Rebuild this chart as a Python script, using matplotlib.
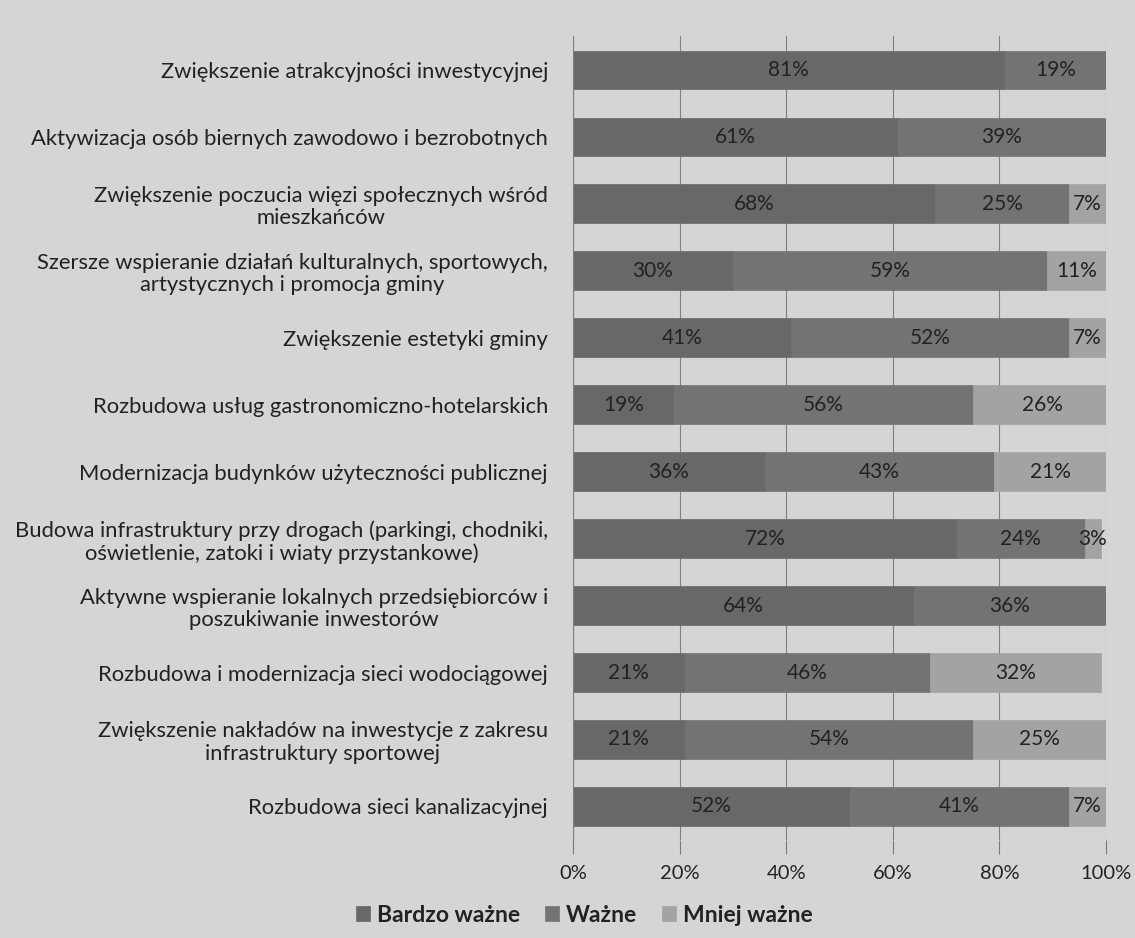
import matplotlib
matplotlib.use("Agg")
import matplotlib.pyplot as plt
import numpy as np

categories = [
    "Zwiększenie atrakcyjności inwestycyjnej",
    "Aktywizacja osób biernych zawodowo i bezrobotnych",
    "Zwiększenie poczucia więzi społecznych wśród\nmieszkańców",
    "Szersze wspieranie działań kulturalnych, sportowych,\nartystycznych i promocja gminy",
    "Zwiększenie estetyki gminy",
    "Rozbudowa usług gastronomiczno-hotelarskich",
    "Modernizacja budynków użyteczności publicznej",
    "Budowa infrastruktury przy drogach (parkingi, chodniki,\noświetlenie, zatoki i wiaty przystankowe)",
    "Aktywne wspieranie lokalnych przedsiębiorców i\nposzukiwanie inwestorów",
    "Rozbudowa i modernizacja sieci wodociągowej",
    "Zwiększenie nakładów na inwestycje z zakresu\ninfrastruktury sportowej",
    "Rozbudowa sieci kanalizacyjnej",
]
bardzo_wazne = [81, 61, 68, 30, 41, 19, 36, 72, 64, 21, 21, 52]
wazne =        [19, 39, 25, 59, 52, 56, 43, 24, 36, 46, 54, 41]
mniej_wazne =  [0, 0, 7, 11, 7, 26, 21, 3, 0, 32, 25, 7]
series_names = ["Bardzo ważne", "Ważne", "Mniej ważne"]
x_ticks = [0, 20, 40, 60, 80, 100]
x_tick_labels = ["0%", "20%", "40%", "60%", "80%", "100%"]

colors = ["#686868", "#737373", "#a3a3a3"]
bg = "#d3d5d7"
txt = "#222222"
font = "Lato"

fig = plt.figure(figsize=(11.35, 9.38), dpi=100, facecolor=bg)
ax = fig.add_axes([0.5048, 0.1045, 0.4696, 0.857])
ax.set_facecolor(bg)

y = np.arange(len(categories))
left = np.zeros(len(categories))
for name, vals, c in zip(series_names, [bardzo_wazne, wazne, mniej_wazne], colors):
    vals = np.array(vals, dtype=float)
    ax.barh(y, vals, left=left, height=0.57, color=c, label=name, zorder=2,
            edgecolor=c, linewidth=0.5)
    for yi, l, v in zip(y, left, vals):
        if v > 0:
            ax.text(l + v / 2, yi, f"{int(v)}%", ha="center", va="center",
                    fontsize=15, color=txt, family=font, zorder=3)
    left += vals

ax.set_xlim(0, 100)
ax.set_ylim(len(categories) - 0.5, -0.5)
ax.set_xticks(x_ticks)
ax.set_xticklabels(x_tick_labels, fontsize=14.5, color=txt, family=font)
ax.set_yticks(y)
ax.set_yticklabels(categories, fontsize=15.8, color=txt, family=font,
                   multialignment="center", linespacing=1.15)
ax.tick_params(axis="y", length=0, pad=18)
ax.tick_params(axis="x", length=10, width=0.8, color="#7a7a7a", pad=8)
ax.grid(axis="x", color="#7f7f7f", linewidth=0.8, zorder=1)
for s in ["top", "right", "bottom"]:
    ax.spines[s].set_visible(False)
ax.spines["left"].set_color("#7f7f7f")
ax.spines["left"].set_linewidth(0.8)

leg = fig.legend(loc="center", bbox_to_anchor=(0.515, 0.0245), ncol=3, frameon=False,
                 handlelength=0.6, handleheight=0.6, handletextpad=0.3,
                 columnspacing=1.1, prop={"family": font, "size": 16.5, "weight": "bold"})
for t in leg.get_texts():
    t.set_color(txt)

fig.savefig("out.png", dpi=100, facecolor=bg)
